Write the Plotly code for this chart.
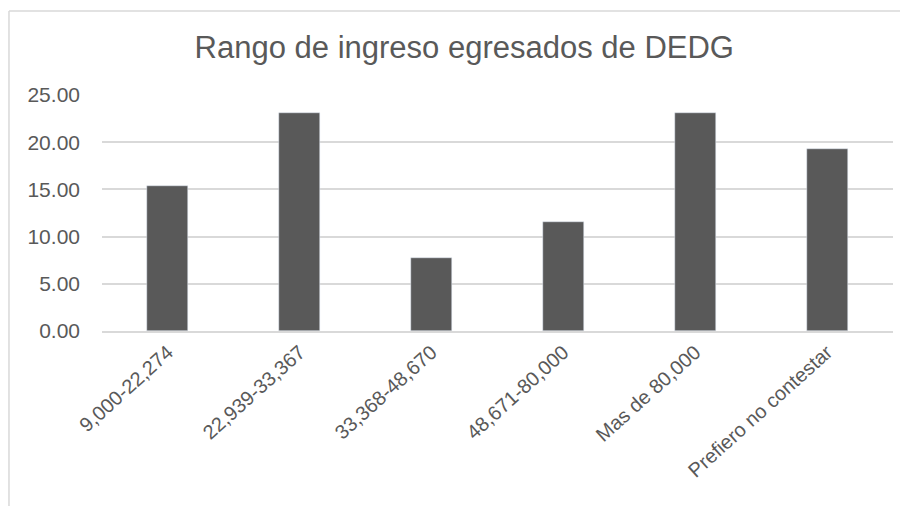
import plotly.graph_objects as go

categories = ["9,000-22,274", "22,939-33,367", "33,368-48,670",
              "48,671-80,000", "Mas de 80,000", "Prefiero no contestar"]
values = [15.38, 23.08, 7.69, 11.54, 23.08, 19.23]
y_ticks = [0, 5, 10, 15, 20, 25]

grey = "#595959"
grid = "#d9d9d9"

fig = go.Figure()
fig.add_trace(go.Bar(x=categories, y=values, marker_color=grey, width=0.31))

# outer chart frame (top + left edge only visible in the crop)
fig.add_shape(type="line", xref="paper", yref="paper", x0=-0.1176, x1=1.03,
              y0=1.356, y1=1.356, line=dict(color=grid, width=1.5))
fig.add_shape(type="line", xref="paper", yref="paper", x0=-0.1176, x1=-0.1176,
              y0=1.356, y1=-0.8, line=dict(color=grid, width=1.5))

# page body has an 8px margin, so the figure is a bit smaller than the window
fig.update_layout(
    width=900, height=498,
    margin=dict(l=94, r=15, t=87, b=175),
    paper_bgcolor="white", plot_bgcolor="white",
    font=dict(family="Liberation Sans, Arial, sans-serif", color=grey, size=20),
    title=dict(text="Rango de ingreso egresados de DEDG", x=0.507, xanchor="center",
               y=0.922, yanchor="middle", font=dict(size=31, color=grey)),
    showlegend=False,
    bargap=0,
    xaxis=dict(tickangle=-42, showline=True, linecolor=grid, linewidth=1.5,
               ticks="", tickfont=dict(size=20)),
    yaxis=dict(range=[0, 25], tickvals=y_ticks, tickformat=".2f",
               showgrid=True, gridcolor=grid, gridwidth=1.5, zeroline=False,
               ticklabelstandoff=21, tickfont=dict(size=21)),
)

fig.write_html("out.html")
